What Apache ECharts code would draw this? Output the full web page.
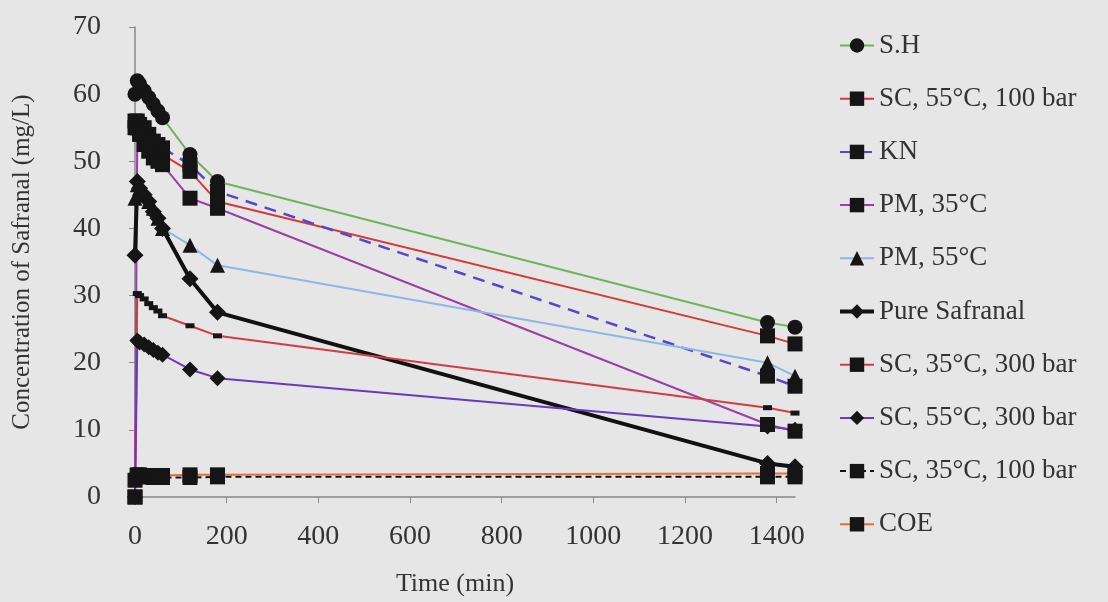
<!DOCTYPE html>
<html><head><meta charset="utf-8">
<script src="https://cdn.jsdelivr.net/npm/echarts@6/dist/echarts.min.js"></script>
<style>html,body{margin:0;padding:0;background:#e6e6e6;}#c{width:1108px;height:602px;}</style>
</head><body><div id="c"></div>
<script>
const times = [0, 5, 10, 20, 30, 40, 50, 60, 120, 180, 1380, 1440];
const xTickLabels = [0, 200, 400, 600, 800, 1000, 1200, 1400];
const seriesNames = ['S.H', 'SC, 55°C, 100 bar', 'KN', 'PM, 35°C', 'PM, 55°C', 'Pure Safranal', 'SC, 35°C, 300 bar', 'SC, 55°C, 300 bar', 'SC, 35°C, 100 bar', 'COE'];
const sh        = [60, 62, 61.5, 60.5, 59.5, 58.5, 57.5, 56.5, 51, 47, 26, 25.3];
const sc55_100  = [55, 55, 54.5, 54, 53, 52, 51.5, 51, 48.5, 44, 24, 22.8];
const kn        = [56, 56, 55.5, 55, 54, 53, 52.5, 52, 49.5, 45.5, 18, 16.5];
const pm35      = [0, 55, 54, 52.5, 51.5, 50.5, 50, 49.5, 44.5, 43, 10.8, 9.8];
const pm55      = [44.5, 46.5, 46, 45, 44, 43, 41.5, 40, 37.5, 34.5, 20, 18];
const pure      = [36, 47, 46, 45, 44, 42.5, 41.5, 40, 32.5, 27.5, 5, 4.5];
const sc35_300  = [0, 30.3, 30, 29.5, 28.8, 28.2, 27.7, 27, 25.5, 24, 13.3, 12.5];
const sc55_300  = [0, 23.3, 23, 22.7, 22.3, 21.9, 21.5, 21.2, 19, 17.7, 10.5, 10];
const sc35_100  = [0, 3.2, 3.1, 3.0, 3.0, 2.9, 2.9, 2.9, 2.9, 3.0, 3.0, 3.0];
const coe       = [2.5, 3.3, 3.3, 3.2, 3.2, 3.2, 3.2, 3.2, 3.3, 3.3, 3.5, 3.5];

const FONT = 'Liberation Serif';
const MK = '#151515';
function pairs(arr){ return times.map((t,i)=>[t,arr[i]]); }
function mk(name, data, color, symbol, size, width, type){
  return {name, type:'line', data:pairs(data), symbol, symbolSize:size, showSymbol:true,
    lineStyle:{color, width, type: type||'solid'}, itemStyle:{color:MK, borderWidth:0}, z: 2};
}
const diamond = 'path://M0,-1L1,0L0,1L-1,0Z';
const series = [
  mk(seriesNames[0], sh, '#6fb35a', 'circle', 15, 2),
  mk(seriesNames[1], sc55_100, '#d8383a', 'rect', 15, 2),
  mk(seriesNames[2], kn, '#5546d0', 'rect', 15, 2.5, [12,8]),
  mk(seriesNames[3], pm35, '#9a3fa6', 'rect', 15, 2),
  mk(seriesNames[4], pm55, '#8fb6e6', 'triangle', 15, 2),
  mk(seriesNames[5], pure, '#111111', diamond, 17, 4),
  mk(seriesNames[6], sc35_300, '#d23c45', 'rect', [9,5], 2),
  mk(seriesNames[7], sc55_300, '#6a38c2', diamond, 16, 2),
  mk(seriesNames[8], sc35_100, '#111111', 'rect', 15, 2, [6,4]),
  mk(seriesNames[9], coe, '#e2703c', 'rect', 15, 2)
];
const legendData = seriesNames.map(n => n === 'Pure Safranal' ? {name:n, lineStyle:{width:4}} : {name:n});
const chart = echarts.init(document.getElementById('c'));
chart.setOption({
  backgroundColor:'#e6e6e6',
  animation:false,
  grid:{left:135, right:313, top:27, bottom:100},
  legend:{orient:'vertical', left:833, top:27, itemGap:26.2, itemWidth:34, itemHeight:18,
    data:legendData, textStyle:{fontFamily:FONT, fontSize:27, color:'#333', padding:[0,0,0,0]}},
  xAxis:{type:'value', min:0, max:1440, interval:200,
    name:'Time (min)', nameLocation:'middle', nameGap:74,
    nameTextStyle:{fontFamily:FONT, fontSize:26, color:'#333', padding:[0,20,0,0]},
    axisLine:{lineStyle:{color:'#888', width:1.5}},
    axisTick:{show:true, length:6, lineStyle:{color:'#888'}, customValues:xTickLabels},
    axisLabel:{fontFamily:FONT, fontSize:28, color:'#333', margin:26, customValues:xTickLabels,
      formatter: v => String(v)},
    splitLine:{show:false}},
  yAxis:{type:'value', min:0, max:70, interval:10,
    name:'Concentration of Safranal (mg/L)', nameLocation:'middle', nameGap:100, nameRotate:90,
    nameTextStyle:{fontFamily:FONT, fontSize:25, color:'#333'},
    axisLine:{show:true, lineStyle:{color:'#888', width:1.5}},
    axisTick:{show:true, length:6, lineStyle:{color:'#888'}},
    axisLabel:{fontFamily:FONT, fontSize:28, color:'#333', margin:34},
    splitLine:{show:false}},
  series
});
</script></body></html>
